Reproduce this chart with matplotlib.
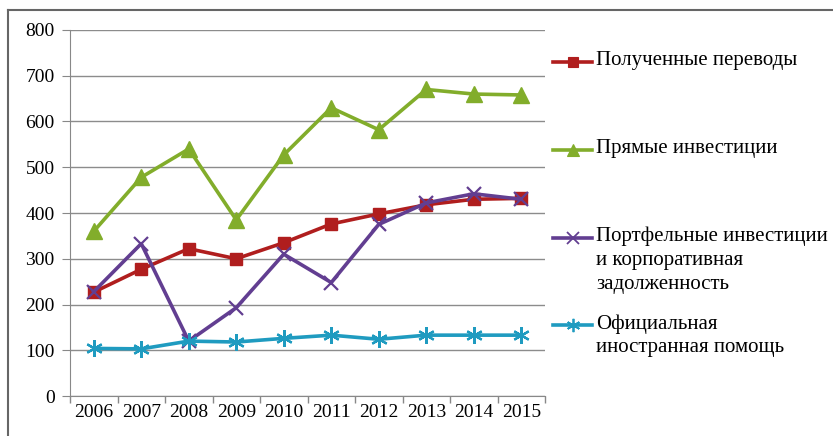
import matplotlib.pyplot as plt
from matplotlib.lines import Line2D

years = ['2006', '2007', '2008', '2009', '2010', '2011', '2012', '2013', '2014', '2015']
remittances = [227, 277, 322, 300, 335, 376, 398, 418, 430, 432]
direct_inv = [360, 478, 540, 385, 527, 630, 582, 670, 660, 658]
portfolio = [228, 333, 120, 193, 310, 248, 375, 422, 442, 430]
official_aid = [104, 103, 120, 118, 126, 133, 124, 133, 133, 133]

labels = ['Полученные переводы',
          'Прямые инвестиции',
          'Портфельные инвестиции\nи корпоративная\nзадолженность',
          'Официальная\nиностранная помощь']

plt.rcParams['font.family'] = ['Liberation Serif', 'DejaVu Serif']
FS = 14

W, H = 833, 436
fig = plt.figure(figsize=(W / 100, H / 100), dpi=100)
ax = fig.add_axes([70 / W, 1 - 396 / H, 475 / W, 366 / H])

styles = [
    dict(color='#B01E1E', marker='s', ms=9, mew=1),
    dict(color='#82AD2B', marker='^', ms=11, mew=1),
    dict(color='#623E91', marker='x', ms=10, mew=1.6),
    dict(color='#1F9BC0', marker=(6, 2, 0), ms=12, mew=1.6),
]
series = [remittances, direct_inv, portfolio, official_aid]

x = list(range(len(years)))
for vals, st in zip(series, styles):
    ax.plot(x, vals, lw=2.6, color=st['color'], marker=st['marker'],
            ms=st['ms'], mew=st['mew'], mec=st['color'], mfc=st['color'],
            zorder=3)

ax.set_xlim(-0.5, len(years) - 0.5)
ax.set_ylim(0, 800)
ax.set_yticks(range(0, 801, 100))
ax.set_xticks(x)
ax.set_xticklabels(years)
ax.set_xticks([i - 0.5 for i in range(len(years) + 1)], minor=True)
ax.tick_params(axis='x', which='major', length=0, labelsize=FS, pad=6)
ax.tick_params(axis='x', which='minor', length=5, color='#888888', width=1)
ax.tick_params(axis='y', length=6, color='#888888', labelsize=FS, pad=5)
ax.grid(axis='y', color='#8c8c8c', lw=1)
ax.set_axisbelow(True)
for side in ['top', 'right']:
    ax.spines[side].set_visible(False)
for side in ['left', 'bottom']:
    ax.spines[side].set_color('#888888')

# legend drawn on the figure, handle level with the first text line
legend_y = [62, 150, 238, 325]
for lab, st, yp in zip(labels, styles, legend_y):
    fy = 1 - yp / H
    fig.add_artist(Line2D([553 / W, 592 / W], [fy, fy], lw=2.6,
                          color=st['color'], transform=fig.transFigure))
    fig.add_artist(Line2D([572.5 / W], [fy], marker=st['marker'],
                          ms=st['ms'] * 0.8, mew=st['mew'] * 0.8,
                          color=st['color'], transform=fig.transFigure))
    fig.text(596 / W, fy + 11 / H, lab, fontsize=FS + 1, va='top', ha='left',
             linespacing=1.35)

# chart area frame: top and left edges only
fig.add_artist(Line2D([8 / W, 1], [1 - 10 / H, 1 - 10 / H], lw=1.5,
                      color='#666666', transform=fig.transFigure))
fig.add_artist(Line2D([8 / W, 8 / W], [0, 1 - 10 / H], lw=1.5,
                      color='#666666', transform=fig.transFigure))

fig.savefig('out.png', dpi=100)
